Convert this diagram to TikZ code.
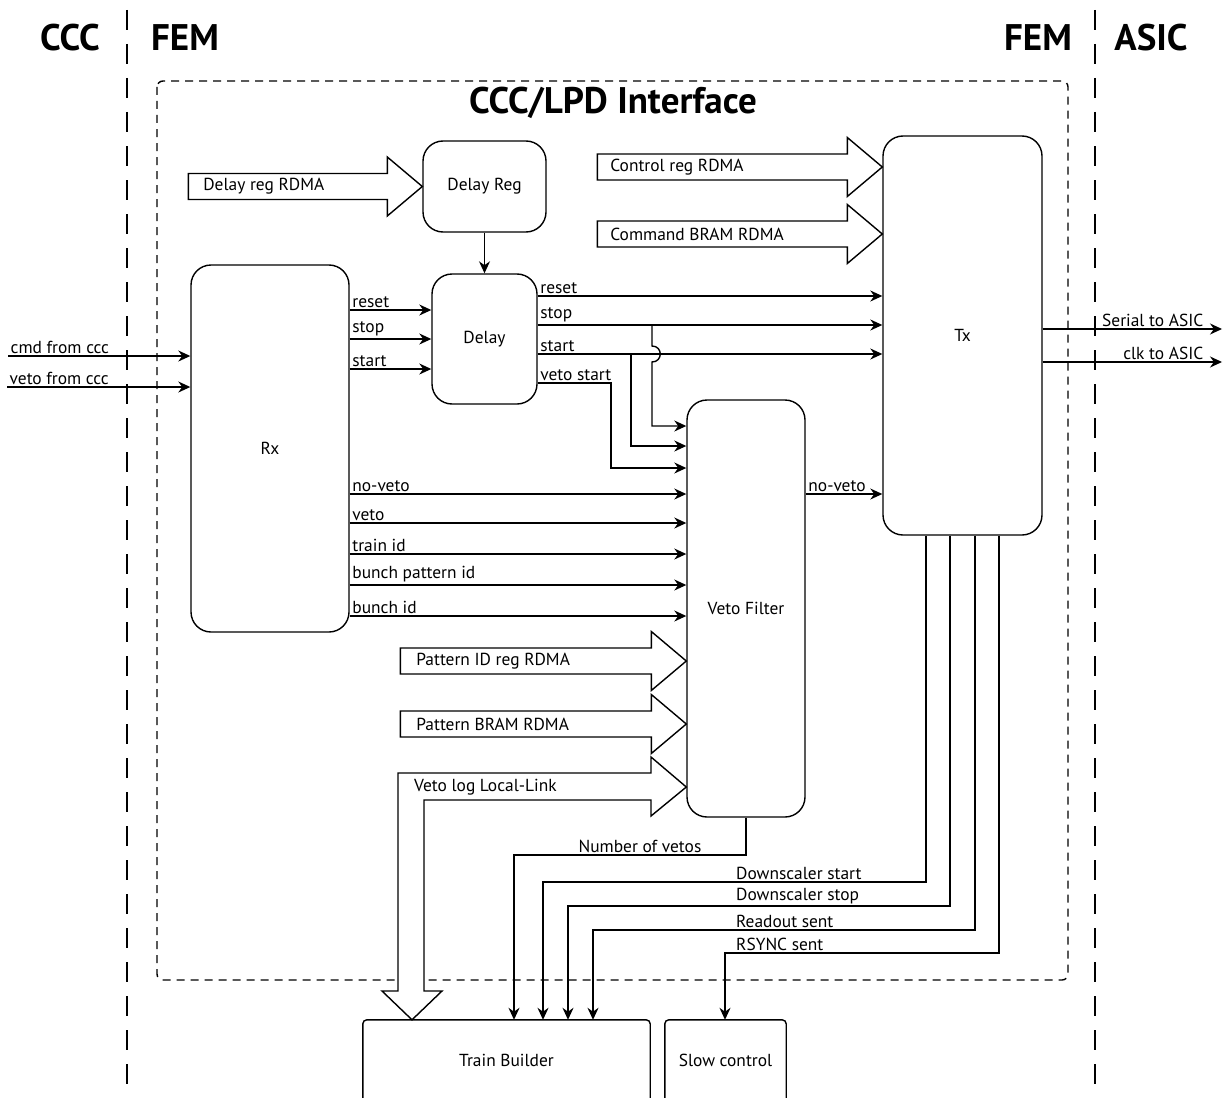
\documentclass[tikz,border=0pt]{standalone}
\usepackage{fontspec}
\setmainfont{PT Sans}
\usetikzlibrary{arrows.meta,calc}
\begin{document}
\begin{tikzpicture}[x=1pt,y=-1pt,
  every node/.style={font=\fontsize{17.4}{20}\selectfont},
  blk/.style={draw,line width=1.4pt,rounded corners=20pt,inner sep=0pt},
  sig/.style={line width=1.4pt,-{Stealth[length=12pt,width=11pt]}},
  wire/.style={line width=1.4pt},
  lbl/.style={anchor=south west,inner sep=2pt},
  big/.style={draw,line width=1.4pt,fill=white,line join=miter},
  head/.style={font=\fontsize{37}{40}\selectfont\bfseries},
  sep/.style={line width=1.4pt,dash pattern=on 20pt off 14pt},
  iface/.style={line width=1.4pt,dash pattern=on 8pt off 6pt,rounded corners=6pt}]
\useasboundingbox (0,0) rectangle (1225,1097);

% region separators and headings
\draw[sep] (127,10) -- (127,1097);
\draw[sep] (1095,10) -- (1095,1097);
\node[head] (hccc) at (70,38) {CCC};
\node[head] (hfeml) at (185,38) {FEM};
\node[head] (hfemr) at (1038,38) {FEM};
\node[head] (hasic) at (1151,38) {ASIC};

% interface box
\draw[iface] (157,81) rectangle (1068,980);
\node[font=\fontsize{37}{40}\selectfont\bfseries] (title) at (613,103) {CCC/LPD Interface};

% blocks
\node[blk,minimum width=123pt,minimum height=91pt] (delayreg) at (484.5,186.5) {Delay Reg};
\node[blk,minimum width=105pt,minimum height=130pt] (delay) at (484.5,339) {Delay};
\node[blk,minimum width=158pt,minimum height=367pt] (rx) at (270,448.5) {Rx};
\node[blk,minimum width=118pt,minimum height=417pt] (veto) at (746,608.5) {Veto Filter};
\node[blk,minimum width=159pt,minimum height=399pt] (tx) at (962.5,335.5) {Tx};
\node[minimum width=287pt,minimum height=80pt,inner sep=0pt] (tb) at (506.5,1060) {Train Builder};
\node[minimum width=121pt,minimum height=80pt,inner sep=0pt] (sc) at (725.5,1060) {Slow control};
\draw[wire,rounded corners=4pt] (tb.south west) |- (tb.north east) -- (tb.south east);
\draw[wire,rounded corners=4pt] (sc.south west) |- (sc.north east) -- (sc.south east);

% external inputs / outputs
\coordinate (cmdin) at (8,356);
\coordinate (vetoin) at (7,387);
\coordinate (serout) at (1222,329);
\coordinate (clkout) at (1222,362);
\draw[sig] (cmdin) node[lbl]{cmd from ccc} -- (rx.west |- cmdin);
\draw[sig] (vetoin) node[lbl]{veto from ccc} -- (rx.west |- vetoin);
\draw[sig] (tx.east |- serout) -- node[pos=1,anchor=south east,inner sep=2pt,xshift=-16pt]{Serial to ASIC} (serout);
\draw[sig] (tx.east |- clkout) -- node[pos=1,anchor=south east,inner sep=2pt,xshift=-16pt]{clk to ASIC} (clkout);

% Delay Reg -> Delay
\draw[sig] (delayreg.south) -- (delay.north);

% Rx -> Delay
\draw[sig] (rx.east |- 0,310) node[lbl]{reset} -- (delay.west |- 0,310);
\draw[sig] (rx.east |- 0,339) node[lbl]{stop} -- (delay.west |- 0,339);
\draw[sig] (rx.east |- 0,369) node[lbl]{start} -- (delay.west |- 0,369);

% Delay -> Tx
\draw[sig] (delay.east |- 0,296) node[lbl]{reset} -- (tx.west |- 0,296);
\draw[sig] (delay.east |- 0,325) node[lbl]{stop} -- (tx.west |- 0,325);
\draw[sig] (delay.east |- 0,354) node[lbl]{start} -- (tx.west |- 0,354);

% Delay -> Veto Filter
\coordinate (stopj) at (652,325);
\coordinate (startj) at (631,354);
\draw[sig] (stopj) -- (652,346) .. controls (663,346) and (663,362) .. (652,362) |- (veto.west |- 0,426);
\draw[sig] (startj) |- (veto.west |- 0,446);
\draw[sig] (delay.east |- 0,383) node[lbl]{veto start} -| (611,468) -- (veto.west |- 0,468);

% Rx -> Veto Filter
\draw[sig] (rx.east |- 0,494) node[lbl]{no-veto} -- (veto.west |- 0,494);
\draw[sig] (rx.east |- 0,523) node[lbl]{veto} -- (veto.west |- 0,523);
\draw[sig] (rx.east |- 0,554) node[lbl]{train id} -- (veto.west |- 0,554);
\draw[sig] (rx.east |- 0,585) node[lbl]{bunch pattern id} -- (veto.west |- 0,585);
\draw[sig] (rx.east |- 0,616) node[lbl]{bunch id} -- (veto.west |- 0,616);

% Veto Filter -> Tx
\draw[sig] (veto.east |- 0,494) node[lbl]{no-veto} -- (tx.west |- 0,494);

% big register arrows
\draw[big] (delayreg.west) -- ++(-35,-29.5) -- ++(0,16.5) -- ++(-199,0)
   -- ++(0,26) node[midway,anchor=west,xshift=11pt]{Delay reg RDMA} -- ++(199,0) -- ++(0,16.5) -- cycle;
\draw[big] (tx.west |- 0,167) -- ++(-35,-29.5) -- ++(0,16.5) -- ++(-250,0)
   -- ++(0,26) node[midway,anchor=west,xshift=9pt]{Control reg RDMA} -- ++(250,0) -- ++(0,16.5) -- cycle;
\draw[big] (tx.west |- 0,234) -- ++(-35,-29.5) -- ++(0,16.5) -- ++(-250,0)
   -- ++(0,26) node[midway,anchor=west,xshift=9pt]{Command BRAM RDMA} -- ++(250,0) -- ++(0,16.5) -- cycle;
\draw[big] (veto.west |- 0,661) -- ++(-35,-29.5) -- ++(0,16.5) -- ++(-251,0)
   -- ++(0,26) node[midway,anchor=west,xshift=12pt]{Pattern ID reg RDMA} -- ++(251,0) -- ++(0,16.5) -- cycle;
\draw[big] (veto.west |- 0,724) -- ++(-35,-29.5) -- ++(0,16.5) -- ++(-251,0)
   -- ++(0,26) node[midway,anchor=west,xshift=12pt]{Pattern BRAM RDMA} -- ++(251,0) -- ++(0,16.5) -- cycle;

% veto log local-link (bent wide arrow to Train Builder)
\draw[big] (veto.west |- 0,787) -- (651,757) -- (651,773) -- (398,773) -- (398,991) -- (382,991)
   -- (tb.north -| 412,0) -- (442,991) -- (424,991) -- (424,800) -- (651,800) -- (651,816) -- cycle;
\node[anchor=west,inner sep=0pt] (vlog) at (414,787) {Veto log Local-Link};

% Veto Filter -> Train Builder
\draw[sig] (veto.south) |- (514,855) node[pos=0.5,anchor=south east,inner sep=2pt,xshift=-42pt]{Number of vetos} -- (tb.north -| 514,0);

% Tx -> Train Builder / Slow control
\draw[sig] (tx.south -| 926,0) |- (543,882) -- (tb.north -| 543,0);
\draw[sig] (tx.south -| 950,0) |- (568,906) -- (tb.north -| 568,0);
\draw[sig] (tx.south -| 975,0) |- (593,930) -- (tb.north -| 593,0);
\draw[sig] (tx.south -| 999,0) |- (725,953) -- (sc.north -| 725,0);
\node[lbl] (l1) at (734,882) {Downscaler start};
\node[lbl] (l2) at (734,906) {Downscaler stop};
\node[lbl] (l3) at (734,930) {Readout sent};
\node[lbl] (l4) at (734,953) {RSYNC sent};
\end{tikzpicture}
\end{document}
